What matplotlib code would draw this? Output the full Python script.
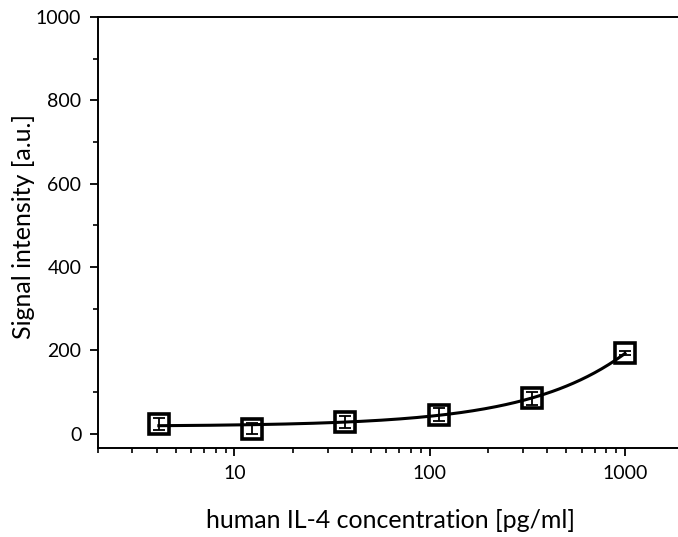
import numpy as np
import matplotlib.pyplot as plt
from matplotlib.ticker import LogLocator, MultipleLocator, FixedLocator

plt.rcParams['font.family'] = ['Lato', 'DejaVu Sans']

# IL-4 standard curve (pg/ml)
conc = [4.1, 12.3, 37, 111, 333, 1000]
signal = [24, 12, 29, 46, 85, 194]
err = [14, 13, 15, 15, 16, 5]

# fit parameters: y = base + k * x**p
base, k, p = 18.0, 0.46, 0.86

fig = plt.figure(figsize=(6.78, 5.37), dpi=100)
ax = fig.add_axes([0.1445, 0.1657, 0.864, 0.8026])

xf = np.logspace(np.log10(conc[0]), np.log10(conc[-1]), 200)
ax.plot(xf, base + k * xf**p, color='black', lw=2.2, zorder=2)

ax.errorbar(conc, signal, yerr=err, fmt='none', ecolor='black', elinewidth=1.3,
            capsize=4.3, capthick=1.3, zorder=3)
ax.plot(conc, signal, 's', mfc='none', mec='black', mew=2.6, ms=15, zorder=4)

ax.set_xscale('log')
ax.set_xlim(2, 2000)
ax.set_ylim(-34, 1000)
ax.xaxis.set_major_locator(FixedLocator([10, 100, 1000]))
ax.xaxis.set_major_formatter(plt.FuncFormatter(lambda v, _: '%d' % v))
ax.xaxis.set_minor_locator(LogLocator(base=10, subs=np.arange(2, 10)))
ax.xaxis.set_minor_formatter(plt.NullFormatter())
ax.yaxis.set_major_locator(MultipleLocator(200))
ax.yaxis.set_minor_locator(MultipleLocator(100))

for s in ['left', 'bottom', 'top']:
    ax.spines[s].set_linewidth(1.4)
ax.spines['right'].set_visible(False)
ax.tick_params(which='major', direction='out', length=6, width=1.3, labelsize=14, pad=6)
ax.tick_params(which='minor', direction='out', length=3.5, width=1.2)
ax.tick_params(top=False, right=False, which='both')

ax.set_xlabel('human IL-4 concentration [pg/ml]', fontsize=18, labelpad=20)
ax.set_ylabel('Signal intensity [a.u.]', fontsize=18)
ax.yaxis.set_label_coords(-0.108, 0.514)

fig.savefig('out.png', dpi=100)
